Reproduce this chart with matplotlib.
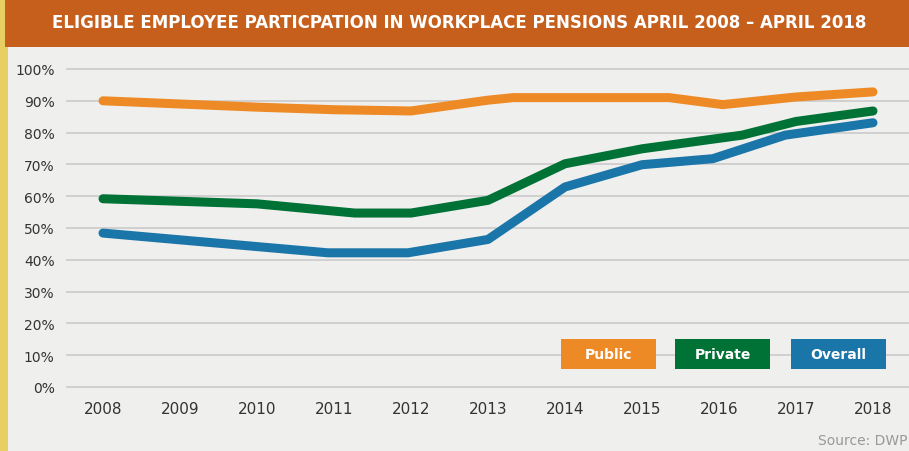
import matplotlib.pyplot as plt
from matplotlib.patches import Rectangle

W, H = 909, 452

# series (year, % of eligible employees)
public_years = [2008, 2010, 2011, 2012, 2013, 2013.33, 2015.35, 2016.05, 2017, 2018]
public_vals = [90.0, 88.0, 87.2, 86.8, 90.2, 91.0, 91.0, 88.8, 91.2, 92.8]

private_years = [2008, 2010, 2011.27, 2012, 2013, 2014, 2015, 2016.3, 2017, 2018]
private_vals = [59.2, 57.6, 54.7, 54.7, 58.7, 70.2, 74.9, 79.2, 83.5, 86.8]

overall_years = [2008, 2010.92, 2011.96, 2013, 2014, 2015, 2015.92, 2016.86, 2018]
overall_vals = [48.4, 42.2, 42.2, 46.4, 62.9, 69.9, 71.8, 79.2, 83.1]

year_ticks = list(range(2008, 2019))
pct_ticks = list(range(0, 101, 10))

BG = '#efefed'
ORANGE = '#ee8a25'
GREEN = '#007236'
BLUE = '#1a75a8'

fig = plt.figure(figsize=(W / 100, H / 100), dpi=100, facecolor=BG)

# decorations: yellow stripe + title bar
fig.patches.append(Rectangle((0, 0), 8 / W, 1, transform=fig.transFigure,
                             facecolor='#e8cf62', edgecolor='none', zorder=0))
fig.patches.append(Rectangle((5 / W, 1 - 48 / H), 1, 48 / H, transform=fig.transFigure,
                             facecolor='#c65f1c', edgecolor='none', zorder=1))
fig.text(459 / W, 1 - 23 / H,
         'ELIGIBLE EMPLOYEE PARTICPATION IN WORKPLACE PENSIONS APRIL 2008 \u2013 APRIL 2018',
         color='white', fontsize=12, fontweight='bold', ha='center', va='center')

# axes: x 67..909 px, y 70..388 px
left, right, top, bottom = 67, 909, 70, 388
ax = fig.add_axes([left / W, 1 - bottom / H, (right - left) / W, (bottom - top) / H])
ax.set_facecolor(BG)
px_per_year = 77
ax.set_xlim(2008 - 36 / px_per_year, 2018 + 36 / px_per_year)
ax.set_ylim(0, 100)

for v in pct_ticks:
    ax.axhline(v, color='#cacacc', lw=1.2, zorder=1, clip_on=False)

lw = 6.5
ax.plot(public_years, public_vals, color=ORANGE, lw=lw, solid_capstyle='round',
        solid_joinstyle='round', zorder=3, clip_on=False)
ax.plot(private_years, private_vals, color=GREEN, lw=lw, solid_capstyle='round',
        solid_joinstyle='round', zorder=3, clip_on=False)
ax.plot(overall_years, overall_vals, color=BLUE, lw=lw, solid_capstyle='round',
        solid_joinstyle='round', zorder=3, clip_on=False)

ax.set_xticks(year_ticks)
ax.set_xticklabels([str(y) for y in year_ticks], fontsize=11, color='#333333')
ax.set_yticks(pct_ticks)
ax.set_yticklabels([f'{v}%' for v in pct_ticks], fontsize=10, color='#333333')
ax.tick_params(axis='x', length=0, pad=10)
ax.tick_params(axis='y', length=0, pad=9)
for s in ax.spines.values():
    s.set_visible(False)

# legend boxes
legend = [('Public', ORANGE, 561), ('Private', GREEN, 675), ('Overall', BLUE, 791)]
for name, col, x0 in legend:
    fig.patches.append(Rectangle((x0 / W, 1 - 370 / H), 95 / W, 30 / H,
                                 transform=fig.transFigure, facecolor=col,
                                 edgecolor='none', zorder=5))
    fig.text((x0 + 47.5) / W, 1 - 355 / H, name, color='white', fontsize=10,
             fontweight='bold', ha='center', va='center', zorder=6)

fig.text(1 - 2 / W, 1 - 441 / H, 'Source: DWP', color='#999999', fontsize=10,
         ha='right', va='center')

fig.savefig('out.png', dpi=100, facecolor=BG)
